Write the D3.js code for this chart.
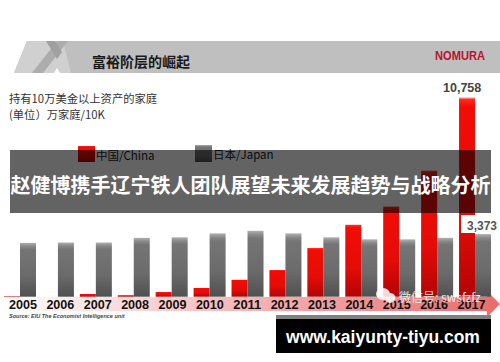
<!DOCTYPE html>
<html>
<head>
<meta charset="utf-8">
<script src="https://cdn.jsdelivr.net/npm/d3@7"></script>
<style>
html, body { margin: 0; padding: 0; background: #fff; }
svg { display: block; }
text { font-family: "Noto Sans CJK SC", "Liberation Sans", sans-serif; }
.latin { font-family: "Liberation Sans", sans-serif; }
</style>
</head>
<body>
<svg id="chart" width="500" height="362"></svg>
<script>
const years = ["2005", "2006", "2007", "2008", "2009", "2010", "2011", "2012", "2013", "2014", "2015", "2016", "2017"];
const china = [30, 0, 160, 80, 250, 480, 930, 1450, 2640, 3900, 4880, 6820, 10758];
const japan = [2900, 2920, 2920, 3170, 3200, 3410, 3550, 3410, 3200, 3090, 3090, 3170, 3373];
const seriesNames = ["中国/China", "日本/Japan"];
const valueLabels = ["10,758", "3,373"];

const svg = d3.select("#chart");
const baseline = 296.7;

const x_scale = d3.scaleBand().domain(years).range([1.04, 494]).padding(0);
const y_scale = d3.scaleLinear().domain([0, 10758]).range([baseline, 97]);
// the year labels run a little tighter than the bars
const label_scale = d3.scalePoint().domain(years).range([22.5, 471]);

const defs = svg.append("defs");

function barGradient(id, stops) {
    const g = defs.append("linearGradient").attr("id", id)
        .attr("x1", 0).attr("x2", 0).attr("y1", 0).attr("y2", 1);
    stops.forEach((s) => g.append("stop").attr("offset", s[0]).attr("stop-color", s[1]));
}
barGradient("redBar", [[0, "#f4f4f4"], [0.012, "#ff2a1a"], [0.05, "#f20c06"], [0.6, "#e40c08"], [1, "#b20404"]]);
barGradient("grayBar", [[0, "#b0b0b0"], [0.06, "#8a8a8a"], [0.12, "#757575"], [0.6, "#6b6b6b"], [1, "#505050"]]);

const arrowGrad = defs.append("linearGradient").attr("id", "arrowFill");
arrowGrad.append("stop").attr("offset", 0).attr("stop-color", "#ffffff");
arrowGrad.append("stop").attr("offset", 1).attr("stop-color", "#ec6a6a");

// header band
svg.append("path").attr("d", "M14 73L27 41L500 41L500 73Z").attr("fill", "#bfbfbf");
svg.append("path").attr("d", "M14 73L27 41L63 41L71 73Z").attr("fill", "#d0d0d0");
svg.append("path").attr("d", "M32 73L57 41L68 41L43 73Z").attr("fill", "#adadad");
svg.append("path").attr("d", "M46 41L55 41L62 52L57 59Z").attr("fill", "#a0a0a0");
svg.append("path").attr("d", "M54 73L57 68L60 73Z").attr("fill", "#fff");

svg.append("text").attr("x", 92).attr("y", 67).attr("font-size", 14).attr("font-weight", 700)
    .attr("fill", "#1a1a1a").text("富裕阶层的崛起");
svg.append("text").attr("class", "latin").attr("x", 435).attr("y", 60).attr("font-size", 12.5)
    .attr("font-weight", 700).attr("fill", "#b8122e").attr("textLength", 50)
    .attr("lengthAdjust", "spacingAndGlyphs").text("NOMURA");

svg.append("text").attr("x", 9).attr("y", 103).attr("font-size", 11.3).attr("fill", "#333").text("持有10万美金以上资产的家庭");
svg.append("text").attr("x", 9).attr("y", 119).attr("font-size", 11.3).attr("fill", "#333").text("(单位）万家庭/10K");

// arrow under the axis
svg.append("path").attr("d", "M0 297L487 297L487 291L500 304L487 317L487 311L0 311Z").attr("fill", "url(#arrowFill)");

// legend
svg.append("rect").attr("x", 78).attr("y", 146).attr("width", 17).attr("height", 16).attr("fill", "url(#redBar)");
svg.append("text").attr("x", 96).attr("y", 160).attr("font-size", 11.5).attr("fill", "#222").text(seriesNames[0]);
svg.append("rect").attr("x", 195).attr("y", 145).attr("width", 17).attr("height", 17).attr("fill", "url(#grayBar)");
svg.append("text").attr("x", 213).attr("y", 159).attr("font-size", 11.5).attr("fill", "#222").text(seriesNames[1]);

// bars
const bw = 16;
const centre = (d) => x_scale(d) + x_scale.bandwidth() / 2;

svg.append("g").selectAll("rect").data(years).join("rect")
    .attr("x", (d) => centre(d) - bw)
    .attr("width", bw)
    .attr("y", (d, i) => y_scale(china[i]))
    .attr("height", (d, i) => baseline - y_scale(china[i]))
    .attr("fill", "url(#redBar)");

svg.append("g").selectAll("rect").data(years).join("rect")
    .attr("x", (d) => centre(d))
    .attr("width", bw)
    .attr("y", (d, i) => y_scale(japan[i]))
    .attr("height", (d, i) => baseline - y_scale(japan[i]))
    .attr("fill", "url(#grayBar)");

// year labels
const xAxis = svg.append("g").attr("transform", `translate(0, ${baseline})`)
    .call(d3.axisBottom(label_scale).tickSize(0).tickPadding(3));
xAxis.select(".domain").remove();
xAxis.selectAll("text").attr("class", "latin").attr("font-size", 13).attr("font-weight", 700)
    .attr("textLength", 28).attr("lengthAdjust", "spacingAndGlyphs").attr("fill", "#111");

svg.append("text").attr("class", "latin").attr("x", 9).attr("y", 318).attr("font-size", 5.5)
    .attr("font-style", "italic").attr("font-weight", 700).attr("fill", "#444")
    .text("Source: EIU The Economist Intelligence unit");

// value labels
svg.append("text").attr("class", "latin").attr("x", 443).attr("y", 92).attr("font-size", 12.5)
    .attr("font-weight", 700).attr("fill", "#444").text(valueLabels[0]);
svg.append("rect").attr("x", 461).attr("y", 215).attr("width", 39).attr("height", 18).attr("fill", "#fff");
svg.append("text").attr("class", "latin").attr("x", 467).attr("y", 230).attr("font-size", 12)
    .attr("font-weight", 700).attr("fill", "#555").text(valueLabels[1]);

// overlay band with headline
svg.append("rect").attr("x", 10).attr("y", 150).attr("width", 481).attr("height", 63).attr("fill", "#000").attr("opacity", 0.61);
svg.append("text").attr("x", 250.5).attr("y", 193).attr("text-anchor", "middle").attr("font-size", 20)
    .attr("font-weight", 700).attr("fill", "#fff").text("赵健博携手辽宁铁人团队展望未来发展趋势与战略分析");

// watermark
const wm = svg.append("g").attr("fill", "#fff").attr("opacity", 0.85);
wm.append("ellipse").attr("cx", 383).attr("cy", 294).attr("rx", 7).attr("ry", 6);
wm.append("ellipse").attr("cx", 390).attr("cy", 298).attr("rx", 5.5).attr("ry", 5);
wm.append("text").attr("x", 399).attr("y", 302).attr("font-size", 12).text("微信号: swsfzfz");

// bottom url box
svg.append("rect").attr("x", 276).attr("y", 315).attr("width", 215).attr("height", 4).attr("fill", "#808080");
svg.append("rect").attr("x", 276).attr("y", 319).attr("width", 215).attr("height", 34).attr("fill", "#000");
svg.append("text").attr("class", "latin").attr("x", 383).attr("y", 342.5).attr("text-anchor", "middle")
    .attr("font-size", 17.5).attr("font-weight", 700).attr("fill", "#fff").text("www.kaiyunty-tiyu.com");
</script>
</body>
</html>
